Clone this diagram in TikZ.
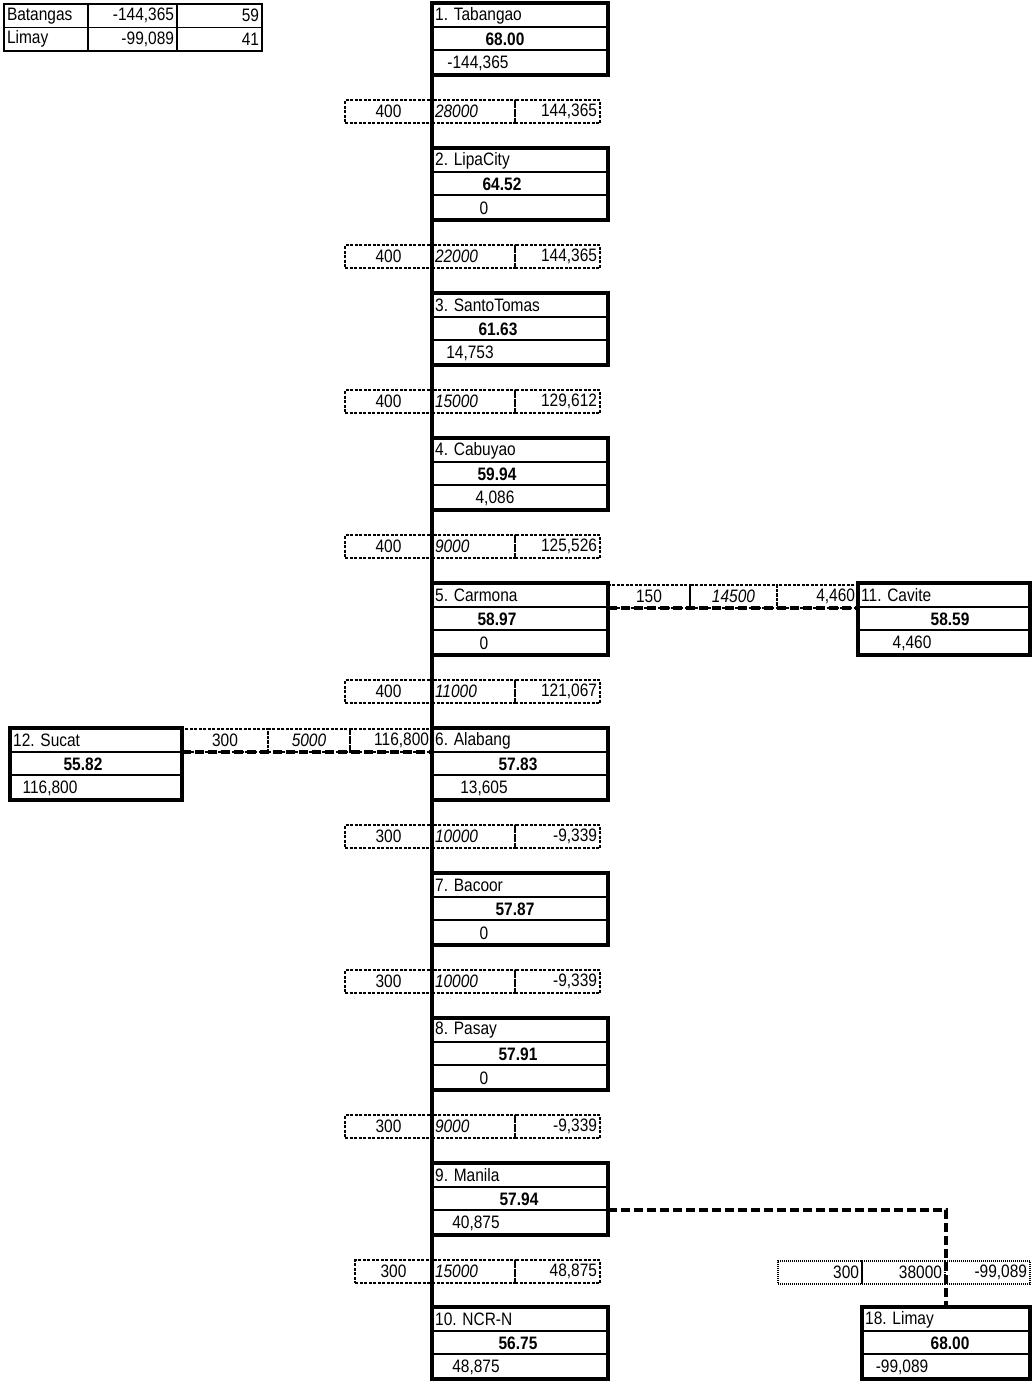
\documentclass[tikz,border=0pt]{standalone}
\usepackage{fontspec}
\setmainfont{Liberation Sans}[FakeStretch=0.86]
\usetikzlibrary{calc}
\tikzset{
 stbox/.style={draw, line width=3.4pt, minimum height=72pt, inner sep=0pt, outer sep=0pt, anchor=north west},
 divl/.style={line width=1.3pt},
 txt/.style={inner sep=0pt, font=\fontsize{18}{21}\selectfont},
 valtxt/.style={inner sep=0pt, font=\fontsize{18}{21}\selectfont\bfseries},
 lcell/.style={draw, line width=1.1pt, dash pattern=on 3pt off 1.5pt, minimum height=23pt, inner xsep=3pt, inner ysep=0pt, outer sep=0pt, anchor=north west, font=\fontsize{18}{21}\selectfont},
 dcell/.style={lcell, dash pattern=on 1pt off 1pt},
 tcell/.style={draw, line width=1.5pt, minimum height=23.5pt, inner xsep=3pt, inner ysep=0pt, outer sep=0pt, anchor=north west, font=\fontsize{18}{21}\selectfont},
 maincon/.style={line width=3.4pt},
 sidecon/.style={line width=3.2pt, dash pattern=on 9pt off 4pt},
}
\newcommand\cell[7]{\node[#1, text width=#5pt, align=#6] (#2) at (#3,#4) {#7};}
\newcommand\flow[5]{%
 \cell{lcell}{f#1a}{345}{#2}{81}{center}{#3}
 \cell{lcell}{f#1b}{432}{#2}{77}{left}{\itshape #4}
 \cell{lcell}{f#1c}{515}{#2}{79}{right}{#5}}
\newcommand\stn[9]{%
 \node[stbox, minimum width=#9pt] (#1) at (#2,#3) {};
 \draw[divl] ($(#1.north west)+(0,24)$) -- ($(#1.north east)+(0,24)$);
 \draw[divl] ($(#1.north west)+(0,47)$) -- ($(#1.north east)+(0,47)$);
 \node[txt, anchor=west] (#1t) at ($(#1.north west)+(3,12.5)$) {#4};
 \node[valtxt] (#1v) at (#6,#3+36) {#5};
 \node[txt] (#1b) at (#8,#3+60) {#7};}
\begin{document}
\begin{tikzpicture}[x=1pt,y=-1pt]
\useasboundingbox (0,0) rectangle (1035,1381);
% legend table
\cell{tcell}{t11}{4}{4}{78}{left}{Batangas}
\cell{tcell}{t12}{88}{4}{83}{right}{-144,365}
\cell{tcell}{t13}{177}{4}{79}{right}{59}
\cell{tcell}{t21}{4}{27.5}{78}{left}{Limay}
\cell{tcell}{t22}{88}{27.5}{83}{right}{-99,089}
\cell{tcell}{t23}{177}{27.5}{79}{right}{41}
% stations
\stn{n1}{432}{3}{1. Tabangao}{68.00}{505}{-144,365}{478}{176}
\stn{n2}{432}{148}{2. LipaCity}{64.52}{502}{0}{484}{176}
\stn{n3}{432}{293}{3. SantoTomas}{61.63}{498}{14,753}{470}{176}
\stn{n4}{432}{438}{4. Cabuyao}{59.94}{497}{4,086}{495}{176}
\stn{n5}{432}{583}{5. Carmona}{58.97}{497}{0}{484}{176}
\stn{n6}{432}{728}{6. Alabang}{57.83}{518}{13,605}{484}{176}
\stn{n7}{432}{873}{7. Bacoor}{57.87}{515}{0}{484}{176}
\stn{n8}{432}{1018}{8. Pasay}{57.91}{518}{0}{484}{176}
\stn{n9}{432}{1163}{9. Manila}{57.94}{519}{40,875}{476}{176}
\stn{n10}{432}{1307}{10. NCR-N}{56.75}{518}{48,875}{476}{176}
\stn{n11}{858}{583}{11. Cavite}{58.59}{950}{4,460}{912}{172}
\stn{n12}{10}{728}{12. Sucat}{55.82}{83}{116,800}{50}{172}
\stn{n18}{862}{1307}{18. Limay}{68.00}{950}{-99,089}{902}{168}
% flow labels on main line
\flow{1}{100}{400}{28000}{144,365}
\flow{2}{245}{400}{22000}{144,365}
\flow{3}{390}{400}{15000}{129,612}
\flow{4}{535}{400}{9000}{125,526}
\flow{5}{680}{400}{11000}{121,067}
\flow{6}{825}{300}{10000}{-9,339}
\flow{7}{970}{300}{10000}{-9,339}
\flow{8}{1115}{300}{9000}{-9,339}
\cell{lcell}{f9a}{355}{1260}{71}{center}{300}
\cell{lcell}{f9b}{432}{1260}{77}{left}{\itshape 15000}
\cell{lcell}{f9c}{515}{1260}{79}{right}{48,875}
% main vertical connectors
\draw[maincon] (n1.south west) -- (n2.north west);
\draw[maincon] (n2.south west) -- (n3.north west);
\draw[maincon] (n3.south west) -- (n4.north west);
\draw[maincon] (n4.south west) -- (n5.north west);
\draw[maincon] (n5.south west) -- (n6.north west);
\draw[maincon] (n6.south west) -- (n7.north west);
\draw[maincon] (n7.south west) -- (n8.north west);
\draw[maincon] (n8.south west) -- (n9.north west);
\draw[maincon] (n9.south west) -- (n10.north west);
% 5 -> 11
\cell{lcell}{s1a}{608}{585}{76}{center}{150}
\cell{lcell}{s1b}{690}{585}{81}{center}{\itshape 14500}
\cell{lcell}{s1c}{777}{585}{75}{right}{4,460}
\draw[sidecon] (n5.east |- s1a.south) -- (n11.west |- s1a.south);
% 12 -> 6
\cell{lcell}{s2a}{182}{729}{80}{center}{300}
\cell{lcell}{s2b}{268}{729}{76}{center}{\itshape 5000}
\cell{lcell}{s2c}{350}{729}{76}{right}{116,800}
\draw[sidecon] (n12.east |- s2a.south) -- (n6.west |- s2a.south);
% 9 -> 18
\cell{dcell}{d1}{778}{1261}{78}{right}{300}
\cell{dcell}{d2}{862}{1261}{77}{right}{38000}
\cell{dcell}{d3}{945}{1261}{79}{right}{-99,089}
\draw[sidecon] ($(n9.north east)+(0,47)$) -| (n18.north);
\end{tikzpicture}
\end{document}
